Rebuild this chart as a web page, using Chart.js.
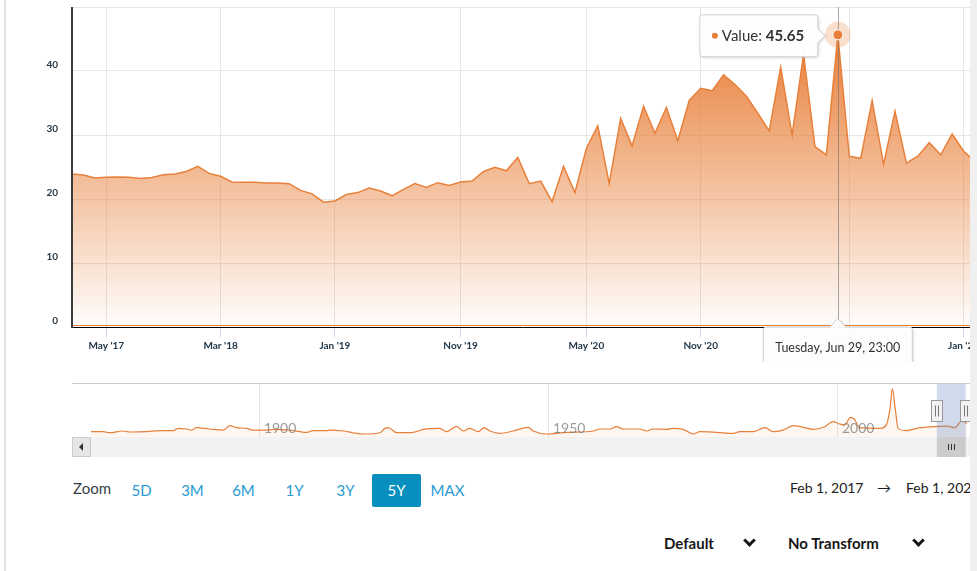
<!DOCTYPE html>
<html>
<head>
<meta charset="utf-8">
<script src="https://cdn.jsdelivr.net/npm/chart.js@4.4.1/dist/chart.umd.min.js"></script>
<style>
  body { margin: 0; width: 977px; height: 571px; overflow: hidden; background: #fff; position: relative; font-family: Lato, "Open Sans", sans-serif; }
  #main { position: absolute; left: 0; top: 0; }
  #nav { position: absolute; left: 0; top: 380px; }
  .edge { position: absolute; left: 4px; top: 0; width: 2px; height: 571px; background: #e4e4e4; }
  .strip { position: absolute; left: 970px; top: 0; width: 7px; height: 571px; background: #f0f0f0; }
  .zoom-label { position: absolute; left: 73px; top: 479px; font-size: 15px; color: #333d47; }
  .zoom-btns { position: absolute; left: 117px; top: 474px; display: flex; gap: 2px; }
  .zoom-btns span { width: 49px; height: 33px; line-height: 33px; text-align: center; font-size: 15px; color: #2a9ad0; border-radius: 2px; }
  .zoom-btns span.on { background: #0790be; color: #fff; }
  .range { position: absolute; top: 479px; font-size: 14px; color: #222; white-space: nowrap; }
  .drop { position: absolute; top: 534px; font-size: 15px; font-weight: bold; color: #161616; white-space: nowrap; }
  .chev { position: absolute; top: 536px; width: 6px; height: 6px; border-right: 3px solid #161616; border-bottom: 3px solid #161616; transform: rotate(45deg); }
</style>
</head>
<body>
<div class="edge"></div>
<canvas id="main" width="1000" height="362"></canvas>
<canvas id="nav" width="1000" height="80"></canvas>

<div class="zoom-label">Zoom</div>
<div class="zoom-btns">
  <span>5D</span><span>3M</span><span>6M</span><span>1Y</span><span>3Y</span><span class="on">5Y</span><span>MAX</span>
</div>
<div class="range" style="left:790px">Feb 1, 2017</div>
<div class="range" style="left:877px">&rarr;</div>
<div class="range" style="left:906px">Feb 1, 2022</div>

<div class="drop" style="left:664px">Default</div>
<div class="chev" style="left:745px"></div>
<div class="drop" style="left:788px">No Transform</div>
<div class="chev" style="left:914px"></div>

<div class="strip"></div>

<script>
// main series, one value per period (ordinal axis)
const values = [
  23.9, 23.75, 23.3, 23.4, 23.45, 23.4, 23.2, 23.35, 23.8, 23.9,
  24.3, 25.1, 24.0, 23.55, 22.65, 22.6, 22.6, 22.5, 22.5, 22.4,
  21.35, 20.8, 19.5, 19.7, 20.7, 21.0, 21.7, 21.25, 20.5, 21.5,
  22.4, 21.8, 22.55, 22.1, 22.65, 22.8, 24.3, 24.95, 24.4, 26.5,
  22.4, 22.8, 19.6, 25.1, 21.0, 27.9, 31.45, 22.4, 32.6, 28.3,
  34.5, 30.25, 34.3, 29.1, 35.4, 37.3, 36.9, 39.4, 37.9, 36.05,
  33.4, 30.65, 40.6, 30.0, 42.6, 28.2, 26.9, 45.65, 26.7, 26.35,
  35.4, 25.4, 33.7, 25.6, 26.7, 28.8, 26.9, 30.15, 27.5, 25.8
];
const tickIndex = [3, 13, 23, 34, 45, 55, 68, 78];
const tickLabels = ["May '17", "Mar '18", "Jan '19", "Nov '19", "May '20", "Nov '20", "Jul '21", "Jan '22"];

const hoverIndex = 67;
const hoverDate = 'Tuesday, Jun 29, 23:00';

// navigator series (full history)
const navYears = [
  1870.8, 1872.9, 1874.0, 1876.3, 1877.5, 1880.4, 1882.7, 1885.0, 1885.9, 1887.3,
  1888.2, 1889.0, 1891.3, 1893.7, 1894.8, 1896.0, 1897.7, 1898.8, 1901.2, 1902.9,
  1905.2, 1908.1, 1909.2, 1911.5, 1912.1, 1914.4, 1916.1, 1917.9, 1920.8, 1921.6,
  1922.2, 1923.7, 1926.5, 1928.3, 1931.1, 1932.3, 1934.0, 1935.2, 1936.3, 1937.8,
  1938.8, 1939.8, 1941.5, 1943.8, 1946.4, 1947.3, 1949.6, 1953.1, 1957.7, 1958.8,
  1960.6, 1961.7, 1962.9, 1965.7, 1966.9, 1968.0, 1970.4, 1971.5, 1973.2, 1975.0,
  1976.1, 1979.0, 1981.9, 1983.0, 1985.3, 1987.4, 1988.8, 1990.5, 1992.3, 1994.0,
  1995.7, 1997.5, 1999.2, 2000.3, 2001.2, 2002.1, 2002.7, 2003.8, 2007.3, 2008.4,
  2009.0, 2009.4, 2009.9, 2010.4, 2011.9, 2013.6, 2016.5, 2018.8, 2020.2, 2021.4,
  2022.3
];
const navValues = [
  13, 13, 10.5, 14.7, 12.3, 13, 15.5, 15.5, 21.2, 19.6,
  17, 22.9, 19.6, 17, 27.8, 22.9, 21.2, 17, 17, 18.8,
  17, 11.4, 15.5, 15.5, 17, 14.7, 10.5, 7.4, 10.5, 21.2,
  22.9, 10.5, 11.4, 18.8, 21.2, 13, 26.1, 14.7, 21.2, 13,
  22.9, 14.7, 9, 14.7, 23.8, 14.7, 7.4, 11.4, 14.7, 19.6,
  19.6, 25.3, 19.6, 19.6, 14.7, 19.6, 18.8, 21.2, 18.8, 7.4,
  13, 11.4, 9, 13, 13, 22.9, 13, 17, 27.8, 23.8,
  18.8, 23.8, 37.6, 32, 29.4, 47.4, 45.6, 22.9, 21.2, 31,
  70, 119, 70, 21.2, 15.5, 21.2, 25.3, 26.9, 22.9, 39.2,
  33.5
];
const navTicks = [1900, 1950, 2000];
const rangeStart = 2017.1;
const rangeEnd = 2022.1;

const lineColor = '#e8803a';
const labelColor = '#22384a';

function areaFill(ctx) {
  const chart = ctx.chart;
  const area = chart.chartArea;
  if (!area) return 'rgba(232,128,58,0.5)';
  const top = chart.scales.y.getPixelForValue(Math.max(...values));
  const g = chart.ctx.createLinearGradient(0, top, 0, area.bottom);
  g.addColorStop(0, 'rgba(232,128,58,1)');
  g.addColorStop(1, 'rgba(232,128,58,0.02)');
  return g;
}

function shadowOn(ctx) {
  ctx.shadowColor = 'rgba(0,0,0,0.18)';
  ctx.shadowOffsetX = 1;
  ctx.shadowOffsetY = 1;
  ctx.shadowBlur = 3;
}

function noPad(axis) {
  axis.paddingTop = 0;
  axis.paddingBottom = 0;
  axis.paddingLeft = 0;
  axis.paddingRight = 0;
}

const hoverPlugin = {
  id: 'hover',
  afterDraw(chart) {
    const { ctx, chartArea: a, scales: { x, y } } = chart;
    const px = x.getPixelForValue(hoverIndex);
    const py = y.getPixelForValue(values[hoverIndex]);
    ctx.save();

    // crosshair
    ctx.strokeStyle = 'rgba(110,110,110,0.6)';
    ctx.lineWidth = 1;
    ctx.beginPath();
    ctx.moveTo(Math.round(px) + 0.5, a.top);
    ctx.lineTo(Math.round(px) + 0.5, a.bottom);
    ctx.stroke();

    // axis lines
    ctx.strokeStyle = lineColor;
    ctx.beginPath();
    ctx.moveTo(a.left, a.bottom - 1.5);
    ctx.lineTo(a.right, a.bottom - 1.5);
    ctx.stroke();
    ctx.strokeStyle = '#000';
    ctx.beginPath();
    ctx.moveTo(a.left, a.bottom + 0.5);
    ctx.lineTo(a.right, a.bottom + 0.5);
    ctx.stroke();
    ctx.strokeStyle = '#3c3c3c';
    ctx.lineWidth = 2;
    ctx.beginPath();
    ctx.moveTo(a.left, a.top);
    ctx.lineTo(a.left, a.bottom + 1);
    ctx.stroke();

    // halo + marker
    ctx.fillStyle = 'rgba(232,128,58,0.25)';
    ctx.beginPath();
    ctx.arc(px, py, 13, 0, Math.PI * 2);
    ctx.fill();
    ctx.fillStyle = lineColor;
    ctx.strokeStyle = '#fff';
    ctx.lineWidth = 1;
    ctx.beginPath();
    ctx.arc(px, py, 5, 0, Math.PI * 2);
    ctx.fill();
    ctx.stroke();

    // value tooltip (left of point)
    const x1 = px - 20, x0 = x1 - 118, cy = py + 1, y0 = cy - 21, y1 = cy + 21, r = 3;
    ctx.beginPath();
    ctx.moveTo(x0 + r, y0);
    ctx.lineTo(x1 - r, y0);
    ctx.arcTo(x1, y0, x1, y0 + r, r);
    ctx.lineTo(x1, cy - 7);
    ctx.lineTo(x1 + 7, cy);
    ctx.lineTo(x1, cy + 7);
    ctx.lineTo(x1, y1 - r);
    ctx.arcTo(x1, y1, x1 - r, y1, r);
    ctx.lineTo(x0 + r, y1);
    ctx.arcTo(x0, y1, x0, y1 - r, r);
    ctx.lineTo(x0, y0 + r);
    ctx.arcTo(x0, y0, x0 + r, y0, r);
    ctx.closePath();
    ctx.save();
    shadowOn(ctx);
    ctx.fillStyle = 'rgba(255,255,255,0.96)';
    ctx.fill();
    ctx.restore();
    ctx.strokeStyle = '#d0d0d0';
    ctx.stroke();

    ctx.fillStyle = lineColor;
    ctx.beginPath();
    ctx.arc(x0 + 15, cy, 3, 0, Math.PI * 2);
    ctx.fill();
    ctx.fillStyle = '#333';
    ctx.textBaseline = 'middle';
    ctx.textAlign = 'left';
    ctx.font = '15px Lato';
    const lab = 'Value: ';
    ctx.fillText(lab, x0 + 22, cy);
    const w1 = ctx.measureText(lab).width;
    ctx.font = 'bold 15px Lato';
    ctx.fillText(values[hoverIndex].toFixed(2), x0 + 22 + w1, cy);

    // date tooltip under the axis
    const dw = 149, dx0 = px - dw / 2, dx1 = px + dw / 2, dy0 = a.bottom, dy1 = a.bottom + 39;
    ctx.beginPath();
    ctx.moveTo(dx0 + r, dy0);
    ctx.lineTo(px - 8, dy0);
    ctx.lineTo(px, dy0 - 8);
    ctx.lineTo(px + 8, dy0);
    ctx.lineTo(dx1 - r, dy0);
    ctx.arcTo(dx1, dy0, dx1, dy0 + r, r);
    ctx.lineTo(dx1, dy1 - r);
    ctx.arcTo(dx1, dy1, dx1 - r, dy1, r);
    ctx.lineTo(dx0 + r, dy1);
    ctx.arcTo(dx0, dy1, dx0, dy1 - r, r);
    ctx.lineTo(dx0, dy0 + r);
    ctx.arcTo(dx0, dy0, dx0 + r, dy0, r);
    ctx.closePath();
    ctx.save();
    shadowOn(ctx);
    ctx.fillStyle = 'rgba(255,255,255,0.94)';
    ctx.fill();
    ctx.restore();
    ctx.strokeStyle = '#d0d0d0';
    ctx.stroke();
    ctx.fillStyle = '#333';
    ctx.textAlign = 'center';
    ctx.font = '12.5px Lato';
    ctx.fillText(hoverDate, px, dy0 + 21);

    ctx.restore();
  }
};

new Chart(document.getElementById('main'), {
  type: 'line',
  data: {
    datasets: [{
      data: values.map((v, i) => ({ x: i, y: v })),
      borderColor: lineColor,
      borderWidth: 1.5,
      pointRadius: 0,
      tension: 0,
      fill: 'origin',
      backgroundColor: areaFill
    }]
  },
  options: {
    responsive: false,
    animation: false,
    events: [],
    layout: { padding: { top: 7, right: 25, left: 0, bottom: 0 } },
    plugins: { legend: { display: false }, tooltip: { enabled: false } },
    scales: {
      x: {
        type: 'linear',
        min: 0,
        max: values.length - 1,
        afterBuildTicks: (axis) => { axis.ticks = tickIndex.map(v => ({ value: v })); },
        afterFit: (axis) => { axis.height = 35; noPad(axis); },
        grid: { color: '#e6e6e6', tickColor: '#ccd6eb', tickLength: 10 },
        border: { display: false },
        ticks: {
          autoSkip: false, maxRotation: 0, padding: 3, color: labelColor,
          font: { family: 'Lato', size: 10, weight: 'bold' },
          callback: (v) => tickLabels[tickIndex.indexOf(v)]
        }
      },
      y: {
        min: 0,
        max: 50,
        afterFit: (axis) => { axis.width = 72; noPad(axis); },
        grid: { color: '#e6e6e6', drawTicks: false },
        border: { display: false },
        ticks: {
          stepSize: 10, padding: 14, labelOffset: -6, color: labelColor,
          font: { family: 'Lato', size: 10, weight: 'bold' },
          callback: (v) => (v === 50 ? '' : v)
        }
      }
    }
  },
  plugins: [hoverPlugin]
});

const navPlugin = {
  id: 'navExtras',
  afterDraw(chart) {
    const { ctx, chartArea: a, scales: { x } } = chart;
    ctx.save();
    // top outline
    ctx.strokeStyle = '#cccccc';
    ctx.lineWidth = 1;
    ctx.beginPath();
    ctx.moveTo(a.left, a.top - 0.5);
    ctx.lineTo(a.right, a.top - 0.5);
    ctx.stroke();

    // axis labels inside
    ctx.fillStyle = 'rgba(120,120,120,0.75)';
    ctx.font = '14px Lato';
    ctx.textBaseline = 'middle';
    ctx.textAlign = 'left';
    navTicks.forEach(t => ctx.fillText(String(t), x.getPixelForValue(t) + 4, a.bottom - 9));

    // selected range mask
    const m0 = x.getPixelForValue(rangeStart), m1 = x.getPixelForValue(rangeEnd);
    ctx.fillStyle = 'rgba(102,133,194,0.3)';
    ctx.fillRect(m0, a.top, m1 - m0, a.bottom - a.top);

    // handles
    [m0, m1].forEach(h => {
      const hx = Math.round(h) - 5.5, hy = a.top + 16.5;
      ctx.fillStyle = '#f2f2f2';
      ctx.strokeStyle = '#999';
      ctx.fillRect(hx, hy, 11, 21);
      ctx.strokeRect(hx, hy, 11, 21);
      ctx.strokeStyle = '#777';
      ctx.beginPath();
      ctx.moveTo(hx + 4, hy + 5); ctx.lineTo(hx + 4, hy + 16);
      ctx.moveTo(hx + 7, hy + 5); ctx.lineTo(hx + 7, hy + 16);
      ctx.stroke();
    });

    // scrollbar
    const sy = a.bottom, sh = 20;
    ctx.fillStyle = '#f2f2f2';
    ctx.fillRect(a.left, sy, chart.width - a.left, sh);
    ctx.fillStyle = '#e6e6e6';
    ctx.strokeStyle = '#cccccc';
    ctx.fillRect(a.left + 0.5, sy + 0.5, 18, sh - 1);
    ctx.strokeRect(a.left + 0.5, sy + 0.5, 18, sh - 1);
    ctx.fillStyle = '#333';
    ctx.beginPath();
    ctx.moveTo(a.left + 7, sy + sh / 2);
    ctx.lineTo(a.left + 11, sy + sh / 2 - 4);
    ctx.lineTo(a.left + 11, sy + sh / 2 + 4);
    ctx.closePath();
    ctx.fill();
    ctx.fillStyle = '#cccccc';
    ctx.fillRect(m0, sy, m1 - m0, sh);
    ctx.strokeStyle = '#333';
    const mc = Math.round((m0 + m1) / 2) + 0.5;
    ctx.beginPath();
    [-3, 0, 3].forEach(d => { ctx.moveTo(mc + d, sy + 7); ctx.lineTo(mc + d, sy + 13); });
    ctx.stroke();
    ctx.restore();
  }
};

new Chart(document.getElementById('nav'), {
  type: 'line',
  data: {
    datasets: [{
      data: navYears.map((yr, i) => ({ x: yr, y: navValues[i] })),
      borderColor: lineColor,
      borderWidth: 1.2,
      pointRadius: 0,
      cubicInterpolationMode: 'monotone',
      fill: 'origin',
      backgroundColor: 'rgba(232,128,58,0.07)'
    }]
  },
  options: {
    responsive: false,
    animation: false,
    events: [],
    layout: { padding: { left: 72, right: 25, top: 4, bottom: 23 } },
    plugins: { legend: { display: false }, tooltip: { enabled: false } },
    scales: {
      x: {
        type: 'linear',
        min: 1867.5,
        max: 2023.7,
        afterBuildTicks: (axis) => { axis.ticks = navTicks.map(v => ({ value: v })); },
        afterFit: (axis) => { axis.height = 0; },
        grid: { color: '#e6e6e6', drawTicks: false },
        border: { display: false },
        ticks: { display: false }
      },
      y: { display: false, min: 0, max: 130 }
    }
  },
  plugins: [navPlugin]
});
</script>
</body>
</html>
